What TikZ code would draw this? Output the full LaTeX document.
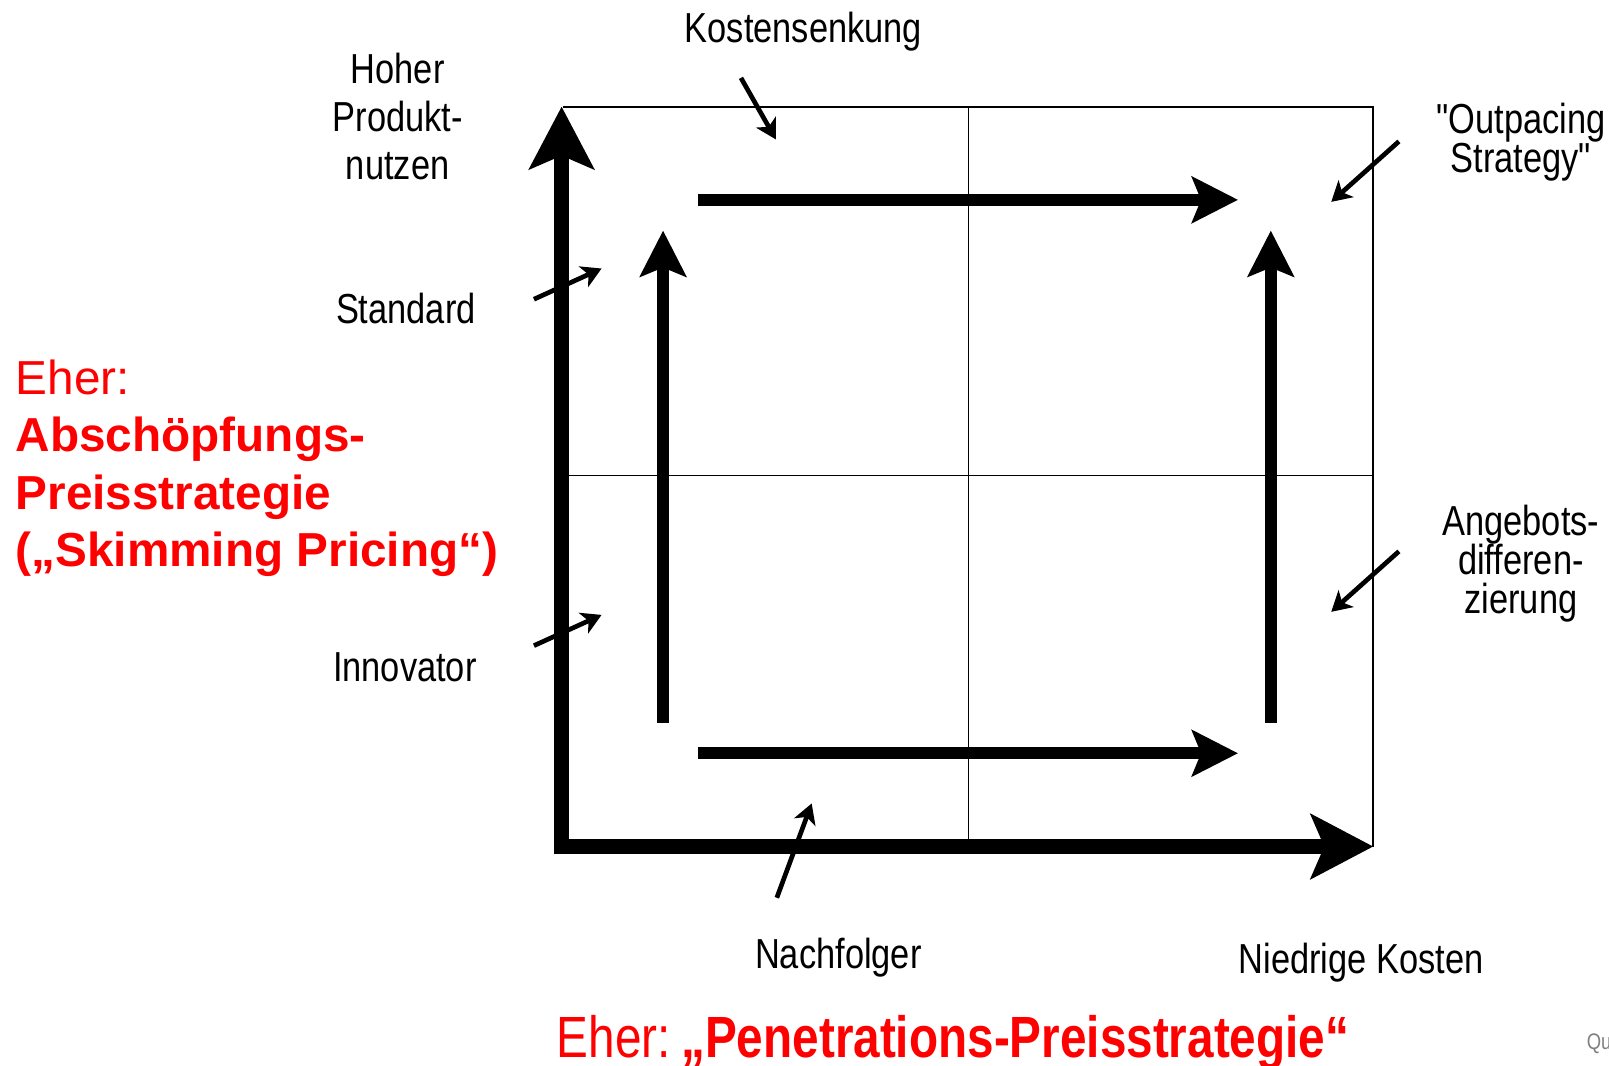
\documentclass[tikz,border=0pt]{standalone}
\usepackage{fontspec}
\setmainfont{Liberation Sans}
\newfontfamily\narrowfont[FakeStretch=0.82]{Liberation Sans}
\usetikzlibrary{arrows.meta}

\begin{document}
\begin{tikzpicture}[x=0.02cm,y=-0.02cm]

\tikzstyle{axis}  = [line width=8.5pt,-{Stealth[length=34.6pt,width=35.7pt,inset=7.4pt]}]
\tikzstyle{move}  = [line width=6.8pt,-{Stealth[length=25.5pt,width=25.5pt,inset=5pt]}]
\tikzstyle{pointer}  = [line width=2.6pt,-{Stealth[length=11pt,width=12.5pt,inset=3pt]}]
\tikzstyle{txt}  = [font=\narrowfont\fontsize{23.3}{26.7}\selectfont, align=center, inner sep=0pt]
\tikzstyle{txttight}  = [font=\narrowfont\fontsize{23.3}{21.8}\selectfont, align=center, inner sep=0pt]
\tikzstyle{redtxt}  = [red, inner sep=0pt]

\useasboundingbox (0,0) rectangle (1570,1040);

% quadrants
\draw[line width=1.1pt] (549,104) -- (1340,104) -- (1340,826);
\draw[line width=0.8pt] (945,104) -- (945,826);
\draw[line width=0.8pt] (555,464) -- (1340,464);

% axes
\coordinate (ybase) at (548,833);
\coordinate (ytip) at (548,104);
\coordinate (xbase) at (541,826);
\coordinate (xtip) at (1340,826);
\draw[axis] (ybase) -- (ytip);
\draw[axis] (xbase) -- (xtip);

% moves between the strategies
\coordinate (lb) at (647,705);
\coordinate (lt) at (647,225);
\coordinate (rb) at (1240,705);
\coordinate (rt) at (1240,225);
\coordinate (tl) at (681,195);
\coordinate (tr) at (1208,195);
\coordinate (bl) at (681,735);
\coordinate (br) at (1208,735);
\draw[move] (lb) -- (lt);
\draw[move] (rb) -- (rt);
\draw[move] (tl) -- (tr);
\draw[move] (bl) -- (br);

% labels
\node[txt] (kosten) at (784,31) {Kostensenkung};
\node[txt] (nutzen) at (388,114) {Hoher\\Produkt-\\nutzen};
\node[txt] (standard) at (396,301) {Standard};
\node[txt] (innovator) at (395,651) {Innovator};
\node[txt] (nachfolger) at (818,934) {Nachfolger};
\node[txt] (niedrig) at (1328,939) {Niedrige Kosten};
\node[txttight] (outpacing) at (1484,139) {"Outpacing\\Strategy"};
\node[txttight] (angebot) at (1484,550) {Angebots-\\differen-\\zierung};

% pointers
\def\pointer#1#2#3#4#5{
\coordinate (#5a) at (#1,#2);
\coordinate (#5b) at (#3,#4);
\draw[pointer] (#5a) -- (#5b);
}
\pointer{723}{76}{757}{136}{pk};
\pointer{521}{292}{587}{262}{ps};
\pointer{521}{630}{587}{600}{pi};
\pointer{758}{876}{792}{784}{pn};
\pointer{1365}{138}{1299}{197}{po};
\pointer{1365}{538}{1299}{597}{pa};

% pricing
\node[redtxt, anchor=north west, align=left, font=\fontsize{26.5}{31.8}\selectfont] (skimming) at (15,351)
  {Eher:\\\textbf{Abschöpfungs-}\\\textbf{Preisstrategie}\\\textbf{(„Skimming Pricing“)}};
\node[redtxt, anchor=base west, font=\narrowfont\fontsize{32.3}{36}\selectfont] (penetration) at (543,1032)
  {Eher:\hspace{0.18em}\textbf{„Penetrations-Preisstrategie“}};
\node[anchor=base west, inner sep=0pt, gray, font=\narrowfont\fontsize{12.5}{14}\selectfont] (quelle) at (1548,1024) {Qu};

\end{tikzpicture}
\end{document}
